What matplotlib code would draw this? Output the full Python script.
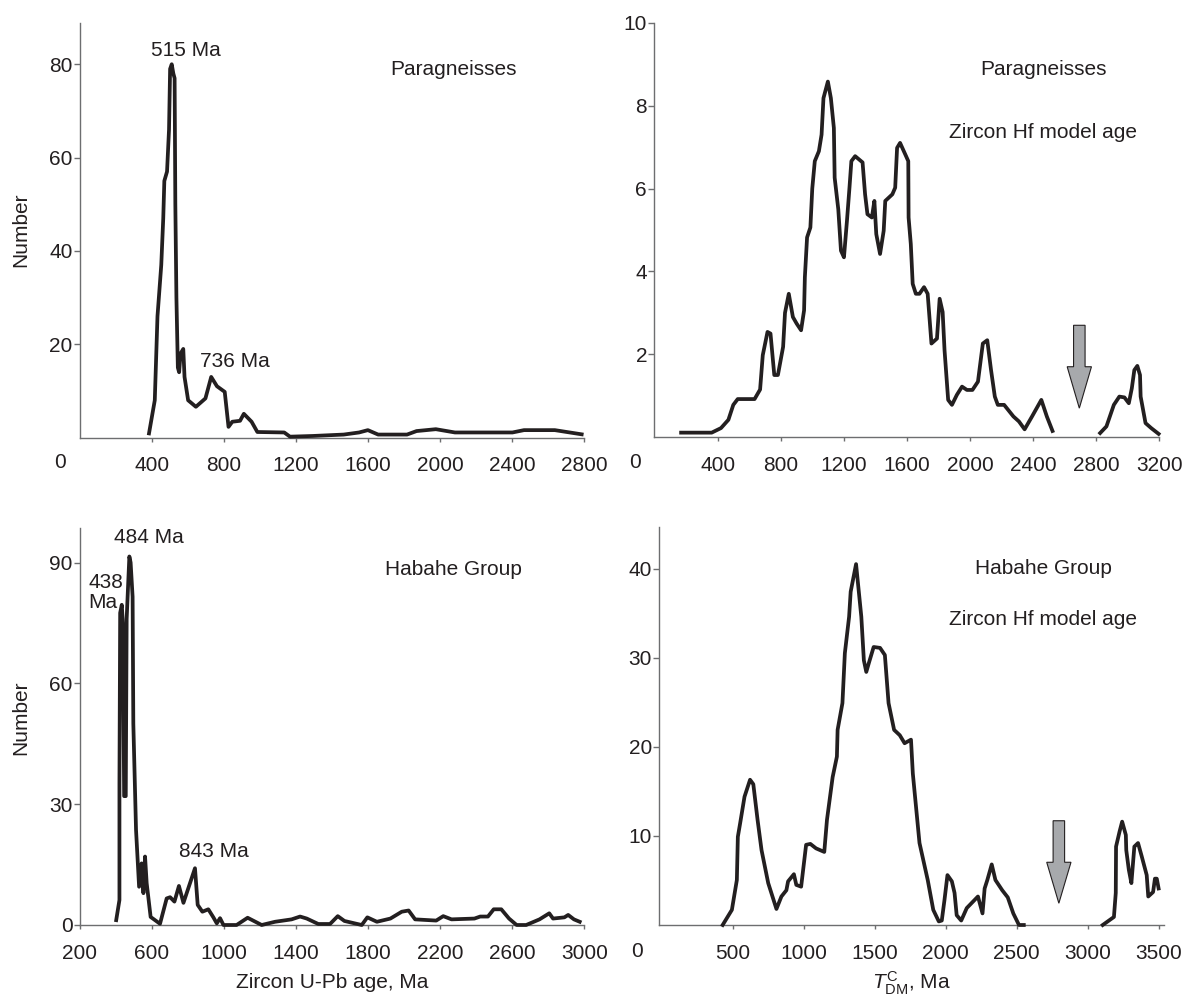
import numpy as np
import matplotlib
matplotlib.use("Agg")
import matplotlib.pyplot as plt
from matplotlib.patches import FancyArrow

plt.rcParams['font.family'] = ['Liberation Sans', 'DejaVu Sans']
plt.rcParams['mathtext.fontset'] = 'custom'
plt.rcParams['mathtext.rm'] = 'Liberation Sans'
plt.rcParams['mathtext.it'] = 'Liberation Sans:italic'

INK = '#231f20'
AXC = '#6d6e70'
FS = 15

# ---- data ----
# top-left: paragneisses, zircon U-Pb ages
upb_para_age = [385, 417, 432, 453, 464, 470, 485, 496, 502, 511, 520, 527, 531, 537, 545, 552,
                560, 575, 582, 602, 645, 698, 730, 762, 805, 826, 847, 890, 911, 954, 986, 1135,
                1167, 1294, 1465, 1550, 1599, 1656, 1816, 1869, 1976, 2082, 2401, 2465, 2636, 2785]
upb_para_num = [0.9, 8, 26, 37, 47, 55, 57, 66, 79, 80, 78, 77, 50, 30, 15, 14,
                18, 19, 13, 8, 6.6, 8.4, 13, 11, 9.8, 2.3, 3.4, 3.6, 5.1, 3.4, 1.2, 1.1,
                0.2, 0.35, 0.65, 1.1, 1.6, 0.65, 0.65, 1.4, 1.8, 1.1, 1.1, 1.6, 1.6, 0.7]

# top-right: paragneisses, zircon Hf model ages (gap before 2800)
hf_para_age = [166, 360, 419, 466, 497, 525, 632, 667, 684, 714, 733, 757, 780, 813, 825, 849,
               875, 899, 927, 946, 951, 965, 986, 998, 1014, 1040, 1057, 1069, 1097, 1116, 1135,
               1140, 1163, 1180, 1199, 1218, 1234, 1246, 1270, 1317, 1333, 1348, 1376, 1392,
               1404, 1428, 1451, 1461, 1506, 1524, 1536, 1555, 1593, 1607, 1609, 1623, 1635,
               1655, 1678, 1707, 1730, 1754, 1789, 1806, 1825, 1837, 1860, 1884, 1915, 1948,
               1979, 2014, 2049, 2080, 2108, 2132, 2156, 2175, 2215, 2274, 2309, 2345, 2392,
               2451, 2486, 2522, np.nan,
               2824, 2864, 2911, 2946, 2978, 3006, 3025, 3041, 3060, 3077, 3081, 3112, 3148, 3195]
hf_para_num = [0.11, 0.11, 0.22, 0.42, 0.78, 0.92, 0.92, 1.15, 1.98, 2.54, 2.5, 1.5, 1.5, 2.18, 3.0, 3.46,
               2.9, 2.74, 2.58, 3.06, 3.86, 4.82, 5.06, 6.0, 6.66, 6.9, 7.3, 8.18, 8.58, 8.18, 7.46,
               6.26, 5.5, 4.5, 4.34, 5.22, 6.02, 6.66, 6.78, 6.63, 5.86, 5.38, 5.3, 5.7,
               4.9, 4.42, 4.98, 5.7, 5.86, 6.02, 6.98, 7.1, 6.78, 6.66, 5.3, 4.66, 3.7,
               3.46, 3.46, 3.62, 3.46, 2.26, 2.38, 3.34, 3.02, 2.1, 0.9, 0.78, 1.02, 1.22,
               1.14, 1.14, 1.34, 2.26, 2.34, 1.62, 0.98, 0.78, 0.78, 0.5, 0.38, 0.19, 0.5,
               0.9, 0.5, 0.15, np.nan,
               0.1, 0.26, 0.78, 0.98, 0.96, 0.82, 1.18, 1.62, 1.72, 1.5, 0.98, 0.34, 0.22, 0.08]

# bottom-left: Habahe Group, zircon U-Pb ages
upb_hab_age = [403, 421, 421, 425, 434, 440, 447, 456, 461, 476, 483, 494, 498, 513, 530, 544,
               554, 563, 572, 594, 646, 683, 702, 726, 751, 776, 840, 855, 881, 914, 942, 961,
               979, 998, 1071, 1132, 1210, 1284, 1376, 1423, 1460, 1524, 1589, 1632, 1669, 1765,
               1796, 1849, 1924, 1987, 2025, 2061, 2178, 2217, 2263, 2390, 2422, 2465, 2497, 2539,
               2582, 2624, 2677, 2751, 2805, 2826, 2889, 2910, 2942, 2974]
upb_hab_num = [1.2, 6.2, 35, 77.5, 79.5, 75, 32, 32, 76, 91.5, 90, 81.5, 50, 23.6, 9.5, 15.3,
               7.9, 17, 10.4, 2, 0.3, 6.6, 6.9, 5.8, 9.7, 5.5, 14.1, 5, 3.3, 3.9, 1.9, 0.4,
               1.7, 0, 0, 1.8, 0, 0.8, 1.4, 2.1, 1.6, 0.25, 0.25, 2.2, 1.0, 0,
               1.9, 0.8, 1.6, 3.3, 3.6, 1.4, 1.1, 2.2, 1.4, 1.6, 2.1, 2.1, 3.9, 3.9,
               1.6, 0, 0, 1.4, 2.9, 1.6, 1.9, 2.5, 1.4, 0.8]

# bottom-right: Habahe Group, zircon Hf model ages (gap before 3100)
hf_hab_age = [428, 493, 528, 535, 551, 582, 621, 644, 674, 702, 749, 807, 842, 877, 889, 930,
              947, 981, 1016, 1046, 1086, 1144, 1163, 1203, 1233, 1238, 1272, 1289, 1319, 1330,
              1368, 1405, 1423, 1440, 1460, 1492, 1537, 1571, 1597, 1636, 1676, 1710, 1755, 1768,
              1815, 1873, 1912, 1951, 1972, 1991, 2012, 2043, 2062, 2077, 2109, 2148, 2227, 2259,
              2274, 2293, 2324, 2350, 2398, 2437, 2476, 2516, 2550, np.nan,
              3106, 3185, 3198, 3200, 3225, 3243, 3269, 3272, 3290, 3308, 3329, 3355, 3381, 3416,
              3427, 3461, 3474, 3487, 3500]
hf_hab_num = [0, 1.7, 5.05, 9.9, 11.4, 14.4, 16.3, 15.8, 11.8, 8.4, 4.7, 1.8, 3.2, 3.9, 4.9, 5.7,
              4.5, 4.3, 9.0, 9.1, 8.6, 8.2, 11.8, 16.6, 18.9, 21.9, 24.9, 30.5, 34.6, 37.4,
              40.5, 34.6, 29.7, 28.4, 29.5, 31.2, 31.1, 30.3, 24.9, 21.9, 21.3, 20.4, 20.8, 17.0,
              9.2, 5.05, 1.7, 0.4, 0.5, 2.8, 5.6, 4.9, 3.6, 1.1, 0.5, 1.9, 3.2, 1.3,
              4.1, 5.05, 6.8, 5.05, 3.9, 3.1, 1.3, 0, 0, np.nan,
              0, 0.9, 3.6, 8.8, 10.5, 11.6, 10.1, 8.4, 6.2, 4.7, 8.8, 9.2, 7.7, 5.6,
              3.2, 3.7, 5.2, 5.2, 4.1]

W, H = 1184, 998
fig = plt.figure(figsize=(W / 100, H / 100), dpi=100)


def px_axes(l, r, b, t):
    return fig.add_axes([l / W, 1 - b / H, (r - l) / W, (b - t) / H])


def style(ax):
    for s in ['top', 'right']:
        ax.spines[s].set_visible(False)
    for s in ['left', 'bottom']:
        ax.spines[s].set_color(AXC)
        ax.spines[s].set_linewidth(1.0)
    ax.tick_params(axis='x', direction='out', length=3, width=1.0, color=AXC,
                   pad=10.5, labelsize=FS, labelcolor=INK)
    ax.tick_params(axis='y', direction='out', length=4, width=1.0, color=AXC,
                   pad=1, labelsize=FS, labelcolor=INK)


def curve(ax, x, y):
    ax.plot(x, y, color=INK, lw=2.7, solid_joinstyle='round', clip_on=False, zorder=5)


def arrow(ax, x, ytop, ytip, shaft, head, hlen):
    ax.add_patch(FancyArrow(x, ytop, 0, ytip - ytop, width=shaft, head_width=head,
                            head_length=hlen, length_includes_head=True,
                            fc='#a7a9ac', ec=INK, lw=0.8, zorder=4))


# top-left
ax1 = px_axes(79.6, 584.4, 437.6, 22.7)
style(ax1)
curve(ax1, upb_para_age, upb_para_num)
ax1.set_xlim(0, 2800)
ax1.set_ylim(0, 88.9)
ax1.set_xticks(range(400, 2801, 400))
ax1.set_yticks([20, 40, 60, 80])
ax1.text(589, 83, '515 Ma', ha='center', va='center', fontsize=FS, color=INK)
ax1.text(861, 16.4, '736 Ma', ha='center', va='center', fontsize=FS, color=INK)
ax1.text(0.741, 0.888, 'Paragneisses', transform=ax1.transAxes, ha='center', va='center',
         fontsize=FS, color=INK)

# top-right
ax2 = px_axes(654, 1159.4, 437.2, 22.7)
style(ax2)
curve(ax2, hf_para_age, hf_para_num)
ax2.set_xlim(-6, 3200)
ax2.set_ylim(0, 10)
ax2.set_xticks(range(400, 3201, 400))
ax2.set_yticks([2, 4, 6, 8, 10])
arrow(ax2, 2692, 2.70, 0.70, 73, 154, 1.0)
ax2.text(0.770, 0.888, 'Paragneisses', transform=ax2.transAxes, ha='center', va='center',
         fontsize=FS, color=INK)
ax2.text(0.770, 0.736, 'Zircon Hf model age', transform=ax2.transAxes, ha='center',
         va='center', fontsize=FS, color=INK)

# bottom-left
ax3 = px_axes(79.6, 584.4, 925, 528.3)
style(ax3)
curve(ax3, upb_hab_age, upb_hab_num)
ax3.set_xlim(200, 3000)
ax3.set_ylim(0, 98.5)
ax3.set_xticks(range(200, 3001, 400))
ax3.set_yticks([0, 30, 60, 90])
ax3.text(583, 96.2, '484 Ma', ha='center', va='center', fontsize=FS, color=INK)
ax3.text(247, 82.6, '438\nMa', ha='left', va='center', fontsize=FS, color=INK,
         linespacing=1.05)
ax3.text(944, 18.2, '843 Ma', ha='center', va='center', fontsize=FS, color=INK)
ax3.text(0.741, 0.897, 'Habahe Group', transform=ax3.transAxes, ha='center', va='center',
         fontsize=FS, color=INK)

# bottom-right
ax4 = px_axes(658.8, 1164.3, 925, 526.7)
style(ax4)
curve(ax4, hf_hab_age, hf_hab_num)
ax4.set_xlim(-22, 3540)
ax4.set_ylim(0, 44.7)
ax4.set_xticks(range(500, 3501, 500))
ax4.set_yticks([10, 20, 30, 40])
arrow(ax4, 2797, 11.7, 2.44, 81, 171, 4.6)
ax4.text(0.761, 0.894, 'Habahe Group', transform=ax4.transAxes, ha='center', va='center',
         fontsize=FS, color=INK)
ax4.text(0.761, 0.766, 'Zircon Hf model age', transform=ax4.transAxes, ha='center',
         va='center', fontsize=FS, color=INK)

# corner zeros, axis titles
for xp, yp in [(60, 463), (635.4, 463), (637.2, 951.7)]:
    fig.text(xp / W, 1 - yp / H, '0', ha='center', va='center', fontsize=FS, color=INK)
fig.text(21 / W, 1 - 230 / H, 'Number', rotation=90, ha='center', va='center',
         fontsize=FS, color=INK)
fig.text(21 / W, 1 - 718 / H, 'Number', rotation=90, ha='center', va='center',
         fontsize=FS, color=INK)
fig.text(332 / W, 1 - 988.3 / H, 'Zircon U-Pb age, Ma', ha='center', va='baseline',
         fontsize=FS, color=INK)
fig.text(911 / W, 1 - 989 / H, r'$T_{\rm DM}^{\rm C}$, Ma', ha='center', va='baseline',
         fontsize=FS, color=INK)

fig.savefig('out.png', dpi=100)
